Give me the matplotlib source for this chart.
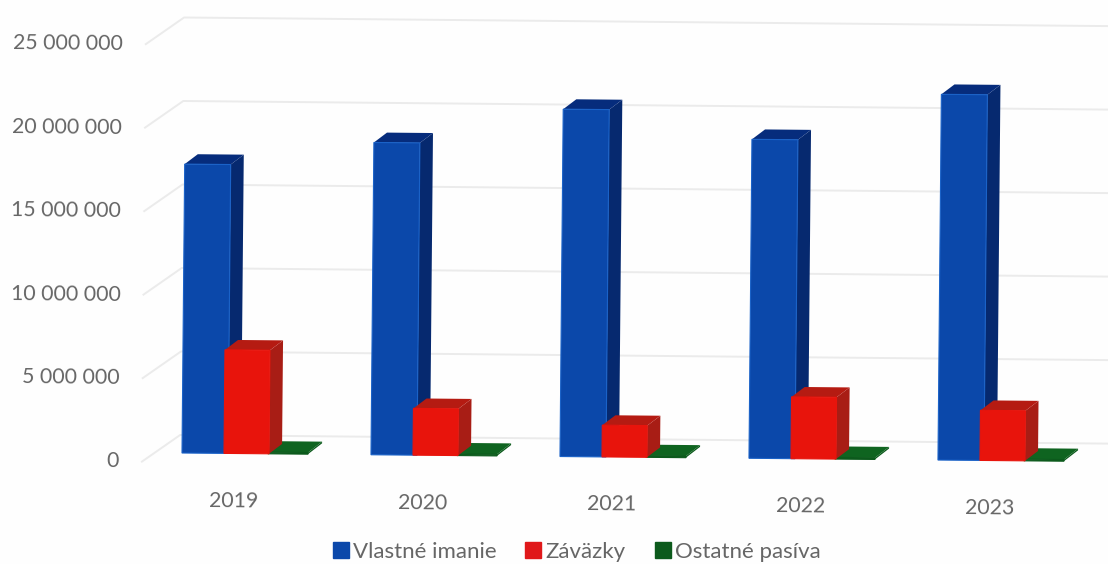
import matplotlib
matplotlib.use("Agg")
import matplotlib.pyplot as plt
from matplotlib.patches import Patch
from matplotlib.transforms import Affine2D

years = ["2019", "2020", "2021", "2022", "2023"]
vlastne_imanie = [17300000, 18700000, 20800000, 19100000, 21900000]
zavazky = [6200000, 2800000, 1900000, 3700000, 3000000]
ostatne_pasiva = [100000, 100000, 100000, 100000, 100000]
y_ticks = [0, 5000000, 10000000, 15000000, 20000000, 25000000]
y_labels = ["0", "5 000 000", "10 000 000", "15 000 000", "20 000 000", "25 000 000"]

W, H = 1108, 564
PX_X = 189.0          # pixels per category
PX_Y = 16.7 / 1e6     # pixels per unit value
LEFT, BASE = 122, 453 # axes origin, pixels from left / top
FIRST = 234           # pixel position of the first category

plt.rcParams["font.family"] = ["Lato", "DejaVu Sans"]
TEXT = "#666666"

fig = plt.figure(figsize=(W / 100, H / 100), dpi=100, facecolor="#fefefe")
ax = fig.add_axes([LEFT / W, (H - BASE) / H, 1 - LEFT / W, BASE / H])
ax.set_xlim((LEFT - FIRST) / PX_X, (W - FIRST) / PX_X)
ax.set_ylim(0, BASE / PX_Y)
ax.set_facecolor("none")
for s in ax.spines.values():
    s.set_visible(False)

# the scanned page is turned slightly clockwise
rot = Affine2D().rotate_around(182, H - BASE, -0.0093)
tr = ax.transData + rot
back = ax.transData + Affine2D().translate(0, 18) + rot

# walls
gx0 = (180 - FIRST) / PX_X
gx1 = (W + 30 - FIRST) / PX_X
for v in y_ticks:
    ax.plot([gx0 - 38 / PX_X, gx0, gx1], [v - 27 / PX_Y, v, v], color="#ebebeb", lw=1.4,
            transform=back, clip_on=False, zorder=1)


def box(i, left_px, width_px, value, depth_x, depth_y, front, side, top, edge, z):
    x0 = i + left_px / PX_X
    x1 = x0 + width_px / PX_X
    dx = depth_x / PX_X
    dy = depth_y / PX_Y
    ax.fill([x1, x1 + dx, x1 + dx, x1], [0, dy, value + dy, value], color=side, lw=0,
            transform=tr, clip_on=False, zorder=z)
    ax.fill([x0, x1, x1 + dx, x0 + dx], [value, value, value + dy, value + dy], color=top, lw=0,
            transform=tr, clip_on=False, zorder=z)
    ax.bar(x0, value, width_px / PX_X, align="edge", color=front, edgecolor=edge, linewidth=0.8,
           transform=tr, clip_on=False, zorder=z + 0.1)


for i in range(len(years)):
    box(i, 34, 40, ostatne_pasiva[i], 14, 11, "#0c5a1c", "#0c5a1c", "#0f6420", "#0c5a1c", 3)
    box(i, -52, 46, vlastne_imanie[i], 13, 10, "#0b48aa", "#06296f", "#062c7c", "#1a62c8", 4)
    box(i, -10, 45, zavazky[i], 13, 10, "#e8140c", "#a81d15", "#b51b12", "#e8140c", 5)

# axes texts
ax.set_xticks(range(len(years)), years)
ax.set_yticks(y_ticks, y_labels)
ax.tick_params(axis="both", length=0, labelsize=15.3, labelcolor=TEXT)
ax.tick_params(axis="x", pad=27)
ax.tick_params(axis="y", pad=2)
for lab in ax.get_xticklabels():
    lab.set_transform(lab.get_transform() + rot)
    lab.set_rotation(-0.53)
down = Affine2D().translate(0, -6.5)
for lab in ax.get_yticklabels():
    lab.set_transform(lab.get_transform() + down + rot)
    lab.set_rotation(-0.53)

handles = [Patch(color="#0b48aa"), Patch(color="#e0181a"), Patch(color="#0c5a1c")]
fig.legend(handles, ["Vlastné imanie", "Záväzky", "Ostatné pasíva"],
           ncols=3, loc="center", bbox_to_anchor=(576.5 / W, 1 - 552 / H), frameon=False,
           fontsize=16, labelcolor=TEXT, handlelength=0.73, handleheight=0.73,
           handletextpad=0.18, columnspacing=1.3, borderpad=0, borderaxespad=0)

fig.savefig("out.png", dpi=100, facecolor=fig.get_facecolor())
